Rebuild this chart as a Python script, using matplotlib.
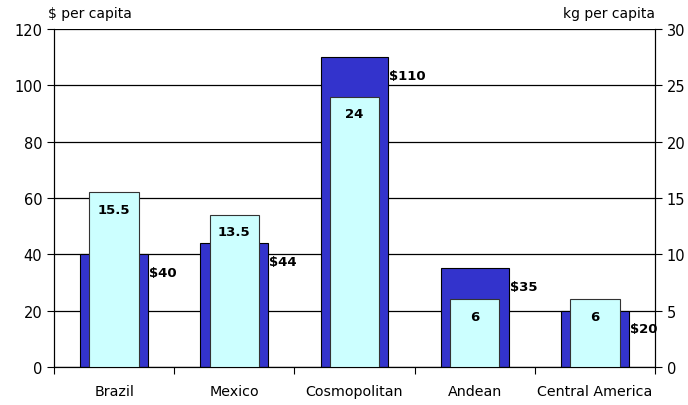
import numpy as np
import matplotlib.pyplot as plt

# data
regions = ["Brazil", "Mexico", "Cosmopolitan", "Andean", "Central America"]
spend = [40, 44, 110, 35, 20]          # $ per capita (left axis)
volume = [15.5, 13.5, 24, 6, 6]        # kg per capita (right axis)
volume_labels = ["15.5", "13.5", "24", "6", "6"]

plt.rcParams['font.family'] = ['DejaVu Sans']

fig = plt.figure(figsize=(6.88, 4.06), dpi=100)
ax = fig.add_axes([54 / 688, 38 / 406, 601 / 688, 338 / 406])
x = np.arange(len(regions))

# dark bars: spending
ax.bar(x, spend, width=0.565, color="#3333CC", edgecolor="black", linewidth=0.8, zorder=2)
ax.set_ylim(0, 120)
ax.set_yticks(range(0, 121, 20))
ax.set_xlim(-0.5, len(regions) - 0.5)
ax.yaxis.grid(True, color="black", linewidth=0.9, zorder=0)
ax.set_axisbelow(True)
ax.set_xticks(np.arange(-0.5, len(regions), 1.0))
ax.set_xticklabels([])
ax.set_xticks(x, minor=True)
ax.set_xticklabels(regions, minor=True, fontsize=10.3)
ax.tick_params(axis="x", which="minor", length=0, pad=12)
ax.tick_params(axis="x", which="major", length=5, direction="out")
ax.tick_params(axis="y", length=5, direction="out", labelsize=10.5)
ax.spines["top"].set_visible(False)

for xi, v in zip(x, spend):
    ax.text(xi + 0.29, v - 6.5, f"${v}", ha="left", va="center",
            fontsize=9.5, fontweight="bold")

# light bars: volume on the right axis
ax2 = ax.twinx()
ax2.bar(x, volume, width=0.41, color="#CCFFFF", edgecolor="#333333", linewidth=0.8, zorder=3)
ax2.set_ylim(0, 30)
ax2.set_yticks(range(0, 31, 5))
ax2.tick_params(axis="y", length=5, direction="out", labelsize=10.5)
ax2.spines["top"].set_visible(False)
for xi, v, lab in zip(x, volume, volume_labels):
    ax2.text(xi, v - 1.5, lab, ha="center", va="center",
             fontsize=9.5, fontweight="bold", zorder=4)

fig.text(48 / 688, 1 - 14 / 406, "$ per capita", ha="left", va="center", fontsize=10)
fig.text(655 / 688, 1 - 14 / 406, "kg per capita", ha="right", va="center", fontsize=10)

fig.savefig("out.png", dpi=100)
